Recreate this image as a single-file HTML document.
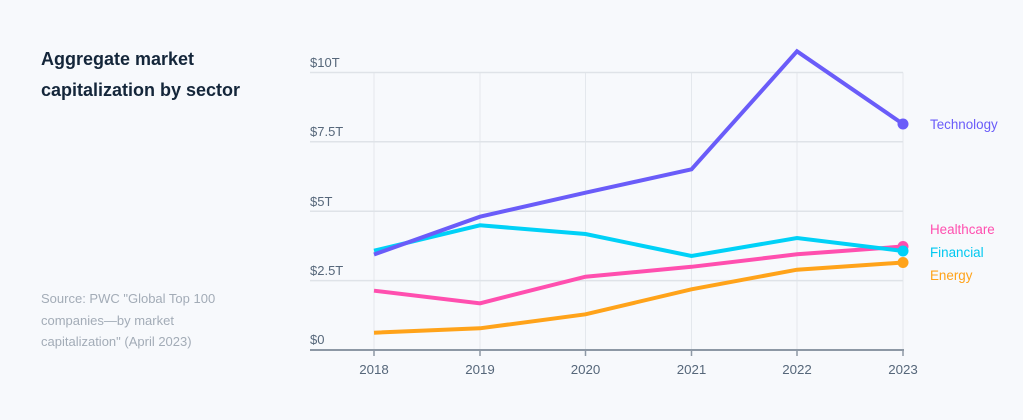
<!DOCTYPE html>
<html><head><meta charset="utf-8"><style>
html,body{margin:0;padding:0;background:#f7f9fc;}
svg{display:block;}
text{font-family:"Liberation Sans",Arial,sans-serif;}
</style></head><body>
<svg width="1023" height="420" viewBox="0 0 1023 420" xmlns="http://www.w3.org/2000/svg">
<rect width="1023" height="420" fill="#f7f9fc"/>
<text x="41" y="65" font-size="18" font-weight="bold" fill="#14263a">Aggregate market</text>
<text x="41" y="96" font-size="18" font-weight="bold" fill="#14263a">capitalization by sector</text>
<g font-size="13" fill="#a3acb7">
<text x="41" y="303">Source: PWC "Global Top 100</text>
<text x="41" y="325">companies—by market</text>
<text x="41" y="346">capitalization" (April 2023)</text>
</g>
<g stroke="#e4e8ed" stroke-width="1">
<line x1="374" y1="72.5" x2="374" y2="350"/>
<line x1="480" y1="72.5" x2="480" y2="350"/>
<line x1="585.5" y1="72.5" x2="585.5" y2="350"/>
<line x1="691.5" y1="72.5" x2="691.5" y2="350"/>
<line x1="797" y1="72.5" x2="797" y2="350"/>
<line x1="903" y1="72.5" x2="903" y2="350"/>
</g>
<g stroke="#dfe3e8" stroke-width="1.5">
<line x1="310" y1="72.5" x2="903" y2="72.5"/>
<line x1="310" y1="141.8" x2="903" y2="141.8"/>
<line x1="310" y1="211.2" x2="903" y2="211.2"/>
<line x1="310" y1="280.6" x2="903" y2="280.6"/>
</g>
<line x1="310" y1="350" x2="904" y2="350" stroke="#8d98a5" stroke-width="2"/>
<g stroke="#8d98a5" stroke-width="1.5">
<line x1="374" y1="350" x2="374" y2="356"/>
<line x1="480" y1="350" x2="480" y2="356"/>
<line x1="585.5" y1="350" x2="585.5" y2="356"/>
<line x1="691.5" y1="350" x2="691.5" y2="356"/>
<line x1="797" y1="350" x2="797" y2="356"/>
<line x1="903" y1="350" x2="903" y2="356"/>
</g>
<g font-size="13" fill="#56677a">
<text x="310" y="67">$10T</text>
<text x="310" y="136">$7.5T</text>
<text x="310" y="206">$5T</text>
<text x="310" y="275">$2.5T</text>
<text x="310" y="344">$0</text>
</g>
<g font-size="13.3" fill="#56677a" text-anchor="middle">
<text x="374" y="374">2018</text>
<text x="480" y="374">2019</text>
<text x="585.5" y="374">2020</text>
<text x="691.5" y="374">2021</text>
<text x="797" y="374">2022</text>
<text x="903" y="374">2023</text>
</g>
<g fill="none" stroke-width="4" stroke-linejoin="miter" stroke-linecap="butt">
<polyline stroke="#ffa31a" points="374,332.7 480,328.3 585.5,314.3 691.5,289.3 797,269.7 903,262.5"/>
<polyline stroke="#ff4faf" points="374,290.7 480,303.3 585.5,276.7 691.5,266.8 797,254.3 903,246.5"/>
<polyline stroke="#00d1f7" points="374,250.7 480,225.3 585.5,234 691.5,256 797,238 903,251"/>
<polyline stroke="#6a5cf9" points="374,254.5 480,216.7 585.5,192.7 691.5,169.3 797,51.3 903,124"/>
</g>
<circle cx="903" cy="262.5" r="5.5" fill="#ffa31a"/>
<circle cx="903" cy="246.5" r="5.5" fill="#ff4faf"/>
<circle cx="903" cy="251" r="5.5" fill="#00d1f7"/>
<circle cx="903" cy="124" r="5.5" fill="#6a5cf9"/>
<g font-size="13.4">
<text x="930" y="129" fill="#6a5cf9">Technology</text>
<text x="930" y="234" fill="#ff4faf">Healthcare</text>
<text x="930" y="257" fill="#00c8f0">Financial</text>
<text x="930" y="280" fill="#ffa31a">Energy</text>
</g>
</svg>
</body></html>
